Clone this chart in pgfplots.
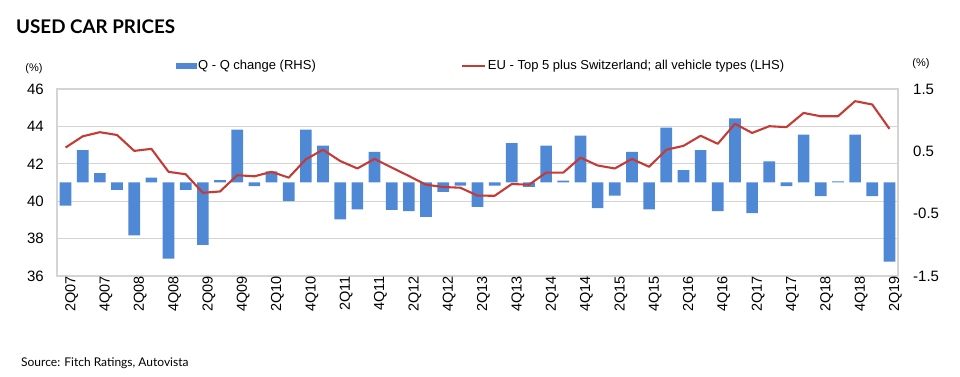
\documentclass[border=0pt]{standalone}
\usepackage{fontspec}
\setmainfont{Liberation Sans}
\newfontfamily\titlefont{Lato}
\usepackage{pgfplots}
\usepackage{pgfplotstable}
\pgfplotsset{compat=1.18}

\definecolor{barblue}{HTML}{4F89D6}
\definecolor{linered}{HTML}{C63A36}
\definecolor{gridgray}{HTML}{D4D4D4}

\pgfplotstableread{
x q line
0 -0.37 42.87
1 0.52 43.47
2 0.15 43.69
3 -0.12 43.54
4 -0.85 42.69
5 0.08 42.80
6 -1.22 41.57
7 -0.12 41.44
8 -1.00 40.45
9 0.04 40.52
10 0.85 41.39
11 -0.06 41.33
12 0.18 41.57
13 -0.30 41.26
14 0.85 42.24
15 0.59 42.75
16 -0.59 42.15
17 -0.43 41.75
18 0.49 42.26
19 -0.44 41.80
20 -0.46 41.35
21 -0.55 40.88
22 -0.15 40.76
23 -0.05 40.72
24 -0.39 40.30
25 -0.05 40.29
26 0.63 40.92
27 -0.07 40.88
28 0.59 41.53
29 0.03 41.53
30 0.75 42.33
31 -0.41 41.91
32 -0.21 41.75
33 0.49 42.26
34 -0.43 41.84
35 0.88 42.75
36 0.20 42.96
37 0.52 43.50
38 -0.46 43.07
39 1.03 44.14
40 -0.49 43.65
41 0.34 44.01
42 -0.06 43.96
43 0.77 44.72
44 -0.22 44.54
45 0.02 44.54
46 0.77 45.35
47 -0.22 45.17
48 -1.27 43.87
}\data

\pgfplotsset{
  base/.style={
    at={(57pt,101pt)}, anchor=south west,
    scale only axis, width=841pt, height=187pt,
    xmin=-0.5, xmax=48.5,
    major tick length=0pt,
    axis line style={draw=gridgray, line width=1.2pt},
  }
}

\begin{document}
\begin{tikzpicture}[x=1pt,y=1pt]
\useasboundingbox (0,0) rectangle (960,377);

\node[anchor=base west, inner sep=0pt, font=\titlefont\bfseries\fontsize{18.8}{20}\selectfont] at (16,343) {USED CAR PRICES};
\node[anchor=base west, inner sep=0pt, font=\titlefont\fontsize{12}{13}\selectfont] at (21,10) {Source: Fitch Ratings, Autovista};
\node[inner sep=0pt, font=\fontsize{11}{11}\selectfont] at (34,308) {(\%)};
\node[inner sep=0pt, font=\fontsize{11}{11}\selectfont] at (921,313) {(\%)};

% left axis: frame, grid, labels
\begin{axis}[base,
  ymin=36, ymax=46,
  ytick={36,38,40,42,44,46}, yticklabels={36,38,40,42,44,46},
  xtick={0,2,...,48},
  xticklabels={2Q07,4Q07,2Q08,4Q08,2Q09,4Q09,2Q10,4Q10,2Q11,4Q11,2Q12,4Q12,2Q13,4Q13,2Q14,4Q14,2Q15,4Q15,2Q16,4Q16,2Q17,4Q17,2Q18,4Q18,2Q19},
  ymajorgrids, grid style={draw=gridgray, line width=1.2pt},
  yticklabel style={font=\fontsize{15}{15}\selectfont, inner sep=0pt, xshift=-13pt},
  xticklabel style={rotate=90, anchor=east, inner sep=0pt, font=\fontsize{14.5}{14.5}\selectfont, yshift=-6pt},
]
\end{axis}

% right axis: bars
\begin{axis}[base,
  ymin=-1.5, ymax=1.5,
  axis x line=none, axis y line*=right,
  ytick={-1.5,-0.5,0.5,1.5}, yticklabels={-1.5,-0.5,0.5,1.5},
  yticklabel style={font=\fontsize{15}{15}\selectfont, inner sep=0pt, xshift=15pt},
]
\addplot[ybar, bar width=0.68, fill=barblue, draw=none] table[x=x, y=q] {\data};
\end{axis}

% left axis: line + legend
\begin{axis}[base,
  ymin=36, ymax=46, hide axis,
  legend columns=2,
  legend style={at={(0.1415,1.123)}, anchor=west, draw=none, fill=none,
    inner sep=0pt, font=\fontsize{13}{13}\selectfont,
    nodes={inner sep=1.5pt},
    /tikz/column 2/.style={column sep=144pt}},
]
\addlegendimage{legend image code/.code={\fill[barblue] (0pt,-2.5pt) rectangle (20pt,2.5pt);}}
\addlegendentry{Q - Q change (RHS)}
\addplot[linered, line width=2.1pt, line join=round,
  legend image code/.code={\draw[linered, line width=2.1pt] (0pt,0pt) -- (23pt,0pt);}]
  table[x=x, y=line] {\data};
\addlegendentry{EU - Top 5 plus Switzerland; all vehicle types (LHS)}
\end{axis}
\end{tikzpicture}
\end{document}
